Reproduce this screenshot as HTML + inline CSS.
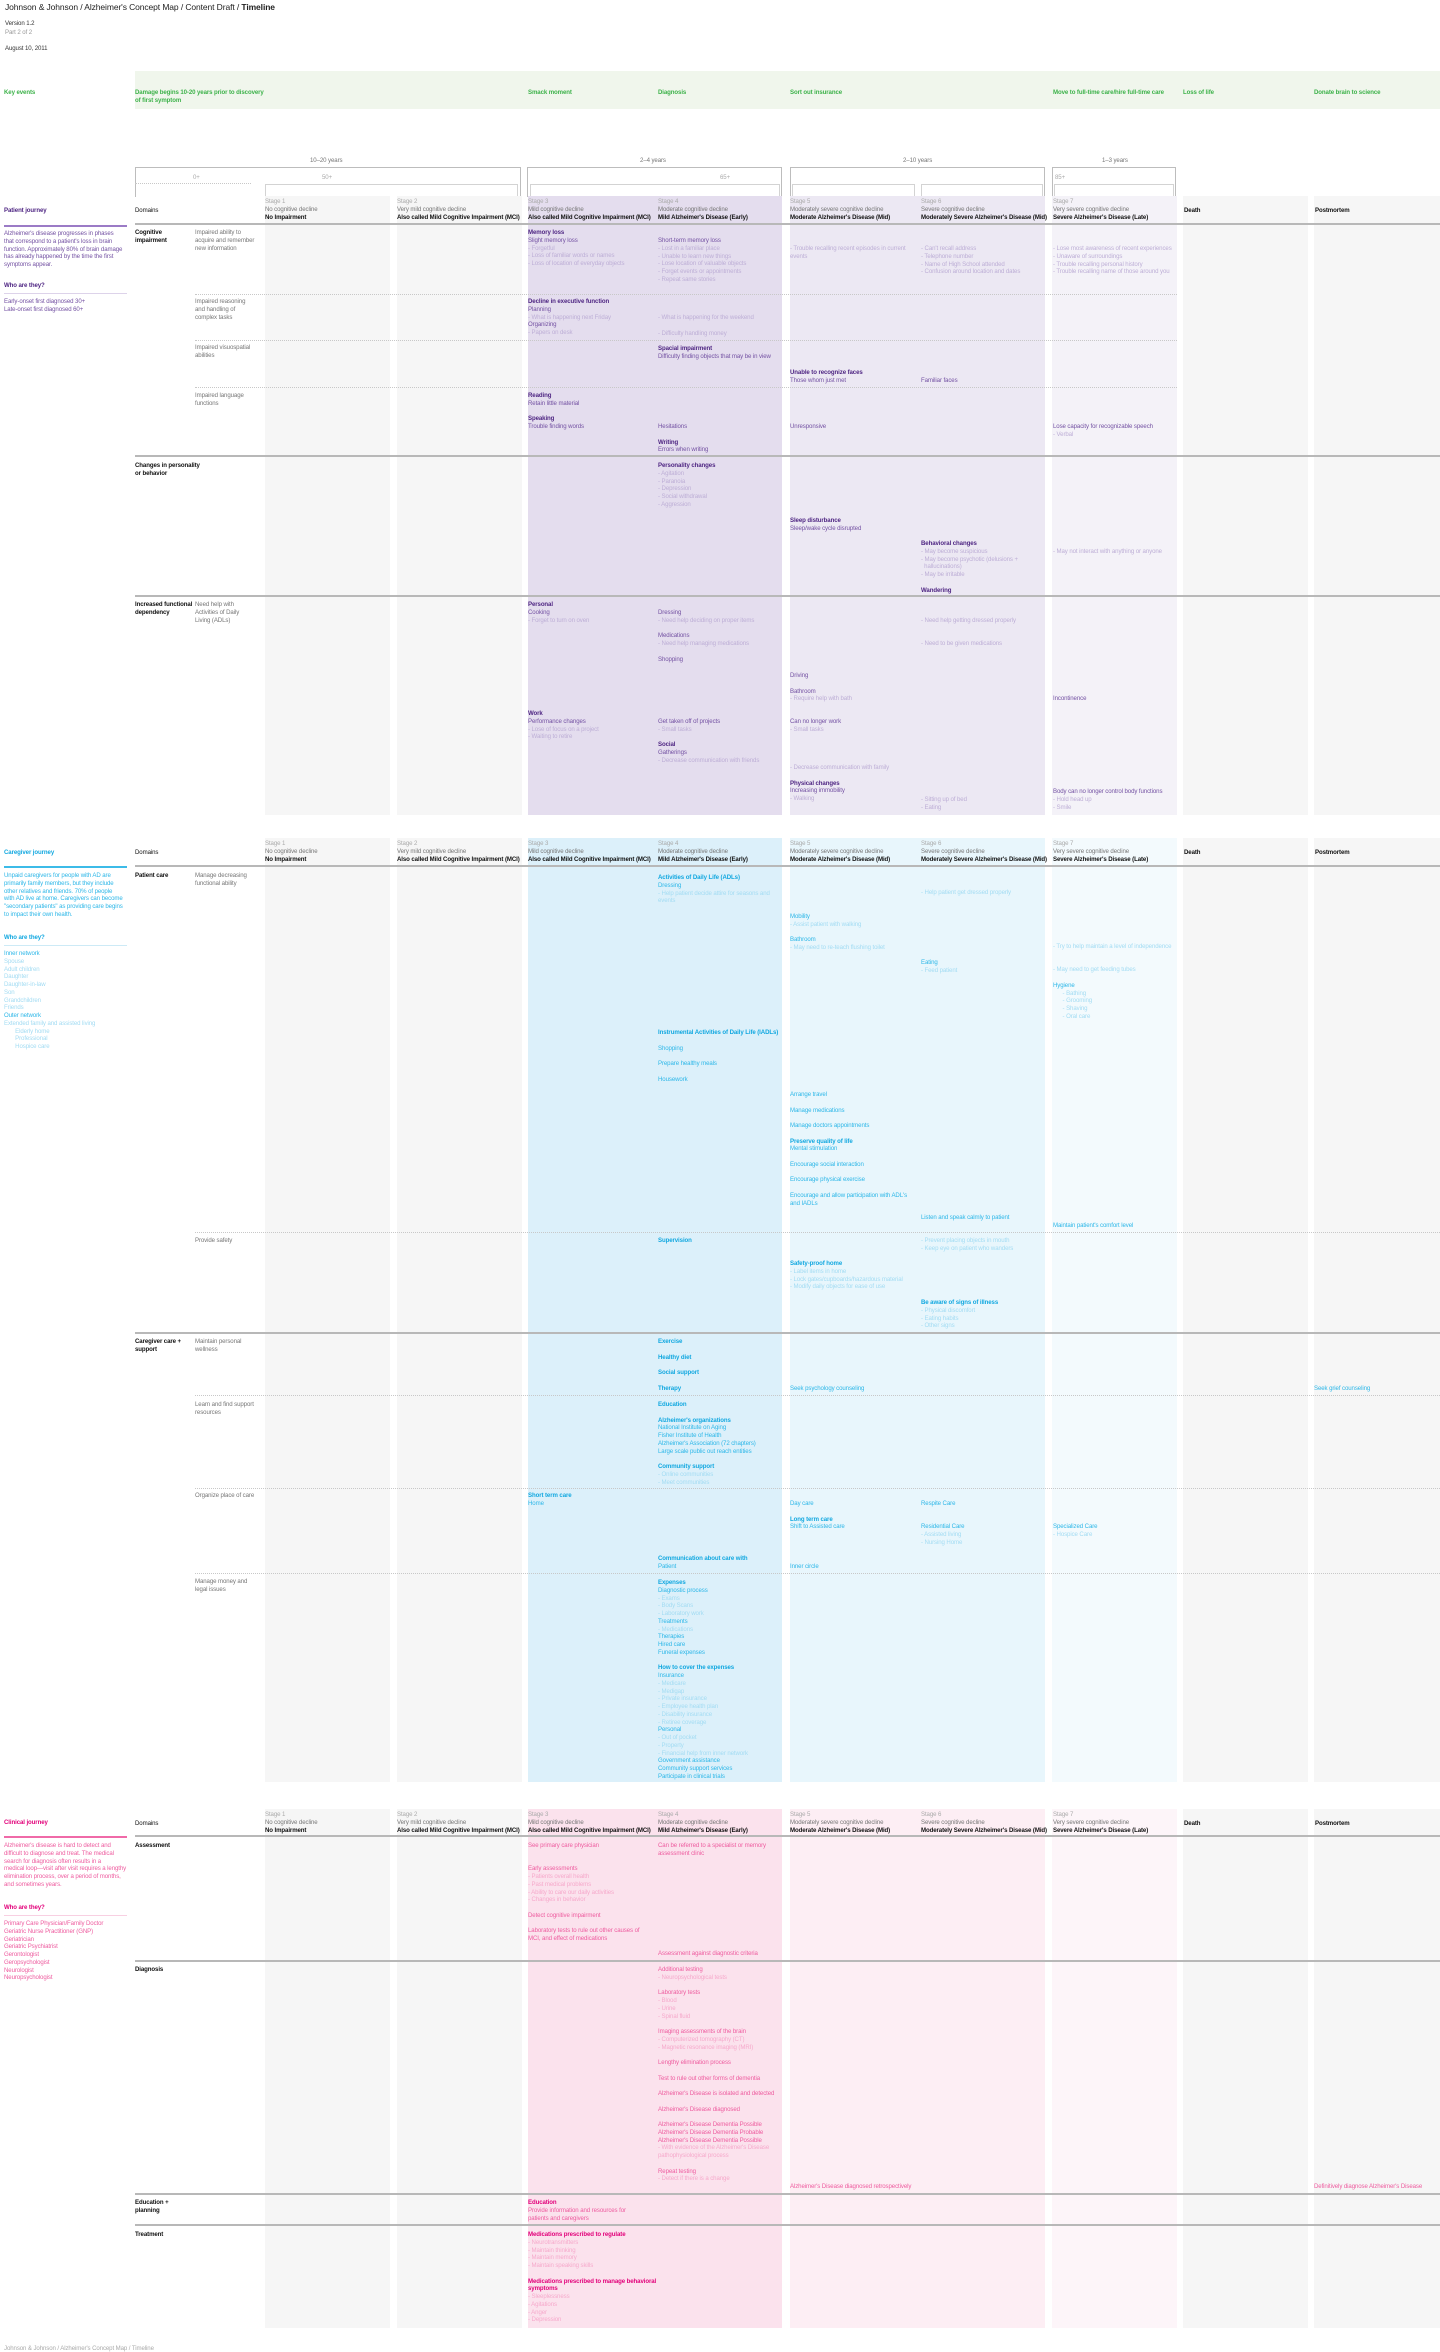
<!DOCTYPE html>
<html><head><meta charset="utf-8">
<style>
*{margin:0;padding:0;box-sizing:border-box}
html,body{width:1440px;height:2352px;background:#fff;position:relative;overflow:hidden;font-family:"Liberation Sans",sans-serif}
.a{position:absolute}
.b{position:absolute;font-size:6.1px;line-height:7.75px;white-space:nowrap;letter-spacing:-0.1px}
.b div{display:block}
.h{font-weight:bold}
.p .h{color:#4f2683}.p .t{color:#7452a3}.p .l{color:#bdaed6}
.c .h{color:#12a8e0}.c .t{color:#2db7e8}.c .l{color:#a3dcf3}
.k .h{color:#e2007a}.k .t{color:#ee5c9f}.k .l{color:#f6a9cb}
.g{color:#3db24a}
.blk,.b .blk,.c .blk,.k .blk,.p .blk{color:#111 !important}
.gr,.b .gr{color:#777 !important}
.lg,.b .lg{color:#aaa !important}
.bg{position:absolute}
.line{position:absolute;height:2px;background:#b8b8b8}
.dot{position:absolute;height:0;border-top:1px dotted #c8c8c8}
.bk{position:absolute;border:1.5px solid #bdbdbd;border-bottom:none}
.bk2{position:absolute;border:1px solid #d3d3d3;border-bottom:none}
</style></head><body>

<div class="b" style="left:5px;top:2px;font-size:8.5px;line-height:10px;color:#222">Johnson &amp; Johnson / Alzheimer's Concept Map / Content Draft / <b>Timeline</b></div>
<div class="b" style="left:5px;top:20px;color:#333">Version 1.2</div>
<div class="b" style="left:5px;top:29px;color:#999">Part 2 of 2</div>
<div class="b" style="left:5px;top:45px;color:#333">August 10, 2011</div>

<div class="bg" style="left:135px;top:71px;width:1305px;height:38px;background:#f0f6ec"></div>
<div class="b g h" style="left:4px;top:89px">Key events</div>
<div class="b g h" style="left:135px;top:89px">Damage begins 10-20 years prior to discovery<br>of first symptom</div>
<div class="b g h" style="left:528px;top:89px">Smack moment</div>
<div class="b g h" style="left:658px;top:89px">Diagnosis</div>
<div class="b g h" style="left:790px;top:89px">Sort out insurance</div>
<div class="b g h" style="left:1053px;top:89px">Move to full-time care/hire full-time care</div>
<div class="b g h" style="left:1183px;top:89px">Loss of life</div>
<div class="b g h" style="left:1314px;top:89px">Donate brain to science</div>

<div class="b gr" style="left:310px;top:157px">10–20 years</div>
<div class="bk" style="left:135px;top:167px;width:386px;height:30px"></div>
<div class="b gr" style="left:640px;top:157px">2–4 years</div>
<div class="bk" style="left:527px;top:167px;width:255px;height:30px"></div>
<div class="b gr" style="left:903px;top:157px">2–10 years</div>
<div class="bk" style="left:790px;top:167px;width:255px;height:30px"></div>
<div class="b gr" style="left:1102px;top:157px">1–3 years</div>
<div class="bk" style="left:1052px;top:167px;width:124px;height:30px"></div>
<div class="b lg" style="left:193px;top:174px">0+</div>
<div class="dot" style="left:135px;top:183px;width:116px"></div>
<div class="b lg" style="left:322px;top:174px">50+</div>
<div class="bk2" style="left:265px;top:184px;width:253px;height:13px"></div>
<div class="b lg" style="left:720px;top:174px">65+</div>
<div class="bk2" style="left:530px;top:184px;width:250px;height:13px"></div>
<div class="bk2" style="left:792px;top:184px;width:123px;height:13px"></div>
<div class="bk2" style="left:921px;top:184px;width:122px;height:13px"></div>
<div class="b lg" style="left:1055px;top:174px">85+</div>
<div class="bk2" style="left:1054px;top:184px;width:120px;height:13px"></div>

<div class="bg" style="left:265px;top:196px;width:125px;height:619px;background:#f6f6f6"></div>
<div class="bg" style="left:397px;top:196px;width:125px;height:619px;background:#f6f6f6"></div>
<div class="bg" style="left:528px;top:196px;width:254px;height:619px;background:#e4ddee"></div>
<div class="bg" style="left:790px;top:196px;width:255px;height:619px;background:#ece8f3"></div>
<div class="bg" style="left:1052px;top:196px;width:125px;height:619px;background:#f4f2f8"></div>
<div class="bg" style="left:1183px;top:196px;width:125px;height:619px;background:#f6f6f6"></div>
<div class="bg" style="left:1314px;top:196px;width:126px;height:619px;background:#f6f6f6"></div>
<div class="bg" style="left:265px;top:838px;width:125px;height:944px;background:#f6f6f6"></div>
<div class="bg" style="left:397px;top:838px;width:125px;height:944px;background:#f6f6f6"></div>
<div class="bg" style="left:528px;top:838px;width:254px;height:944px;background:#dcf0fa"></div>
<div class="bg" style="left:790px;top:838px;width:255px;height:944px;background:#e8f6fc"></div>
<div class="bg" style="left:1052px;top:838px;width:125px;height:944px;background:#f3fafd"></div>
<div class="bg" style="left:1183px;top:838px;width:125px;height:944px;background:#f6f6f6"></div>
<div class="bg" style="left:1314px;top:838px;width:126px;height:944px;background:#f6f6f6"></div>
<div class="bg" style="left:265px;top:1809px;width:125px;height:519px;background:#f6f6f6"></div>
<div class="bg" style="left:397px;top:1809px;width:125px;height:519px;background:#f6f6f6"></div>
<div class="bg" style="left:528px;top:1809px;width:254px;height:519px;background:#fbe2ed"></div>
<div class="bg" style="left:790px;top:1809px;width:255px;height:519px;background:#fdeef4"></div>
<div class="bg" style="left:1052px;top:1809px;width:125px;height:519px;background:#fdf5f9"></div>
<div class="bg" style="left:1183px;top:1809px;width:125px;height:519px;background:#f6f6f6"></div>
<div class="bg" style="left:1314px;top:1809px;width:126px;height:519px;background:#f6f6f6"></div>

<div class="a" style="left:0;top:196px">
<div class="b blk" style="left:135px;top:11px">Domains</div>
<div class="b" style="left:265px;top:2px"><div class="lg">Stage 1</div><div class="gr">No cognitive decline</div><div class="blk h">No Impairment</div></div>
<div class="b" style="left:397px;top:2px"><div class="lg">Stage 2</div><div class="gr">Very mild cognitive decline</div><div class="blk h">Also called Mild Cognitive Impairment (MCI)</div></div>
<div class="b" style="left:528px;top:2px"><div class="lg">Stage 3</div><div class="gr">Mild cognitive decline</div><div class="blk h">Also called Mild Cognitive Impairment (MCI)</div></div>
<div class="b" style="left:658px;top:2px"><div class="lg">Stage 4</div><div class="gr">Moderate cognitive decline</div><div class="blk h">Mild Alzheimer's Disease (Early)</div></div>
<div class="b" style="left:790px;top:2px"><div class="lg">Stage 5</div><div class="gr">Moderately severe cognitive decline</div><div class="blk h">Moderate Alzheimer's Disease (Mid)</div></div>
<div class="b" style="left:921px;top:2px"><div class="lg">Stage 6</div><div class="gr">Severe cognitive decline</div><div class="blk h">Moderately Severe Alzheimer's Disease (Mid)</div></div>
<div class="b" style="left:1053px;top:2px"><div class="lg">Stage 7</div><div class="gr">Very severe cognitive decline</div><div class="blk h">Severe Alzheimer's Disease (Late)</div></div>
<div class="b blk h" style="left:1184px;top:11px">Death</div>
<div class="b blk h" style="left:1315px;top:11px">Postmortem</div>
</div>
<div class="line" style="left:135px;top:223px;width:1305px"></div>
<div class="line" style="left:135px;top:865px;width:1305px"></div>
<div class="line" style="left:135px;top:1835px;width:1305px"></div>

<!-- PATIENT -->
<div class="p">
<div class="b h" style="left:4px;top:207px">Patient journey</div>
<div class="a" style="left:4px;top:225px;width:123px;height:2px;background:#9b7bc6"></div>
<div class="b t" style="left:4px;top:230px">Alzheimer's disease progresses in phases<br>that correspond to a patient's loss in brain<br>function. Approximately 80% of brain damage<br>has already happened by the time the first<br>symptoms appear.</div>
<div class="b h" style="left:4px;top:282px">Who are they?</div>
<div class="a" style="left:4px;top:293px;width:123px;height:1px;background:#ddd3ea"></div>
<div class="b t" style="left:4px;top:298px">Early-onset first diagnosed 30+<br>Late-onset first diagnosed 60+</div>

<div class="b blk h" style="left:135px;top:229px">Cognitive<br>impairment</div>
<div class="b gr" style="left:195px;top:229px">Impaired ability to<br>acquire and remember<br>new information</div>
<div class="b" style="left:528px;top:229px"><div class="h">Memory loss</div><div class="t">Slight memory loss</div><div class="l">- Forgetful</div><div class="l">- Loss of familiar words or names</div><div class="l">- Loss of location of everyday objects</div></div>
<div class="b" style="left:658px;top:237px"><div class="t">Short-term memory loss</div><div class="l">- Lost in a familiar place</div><div class="l">- Unable to learn new things</div><div class="l">- Lose location of valuable objects</div><div class="l">- Forget events or appointments</div><div class="l">- Repeat same stories</div></div>
<div class="b" style="left:790px;top:245px"><div class="l">- Trouble recalling recent episodes in current</div><div class="l">events</div></div>
<div class="b" style="left:921px;top:245px"><div class="l">- Can't recall address</div><div class="l">- Telephone number</div><div class="l">- Name of High School attended</div><div class="l">- Confusion around location and dates</div></div>
<div class="b" style="left:1053px;top:245px"><div class="l">- Lose most awareness of recent experiences</div><div class="l">- Unaware of surroundings</div><div class="l">- Trouble recalling personal history</div><div class="l">- Trouble recalling name of those around you</div></div>
<div class="dot" style="left:195px;top:294px;width:982px"></div>
<div class="b gr" style="left:195px;top:298px">Impaired reasoning<br>and handling of<br>complex tasks</div>
<div class="b" style="left:528px;top:298px"><div class="h">Decline in executive function</div><div class="t">Planning</div><div class="l">- What is happening next Friday</div><div class="t">Organizing</div><div class="l">- Papers on desk</div></div>
<div class="b" style="left:658px;top:314px"><div class="l">- What is happening for the weekend</div><div class="l">&nbsp;</div><div class="l">- Difficulty handling money</div></div>
<div class="dot" style="left:195px;top:340px;width:982px"></div>
<div class="b gr" style="left:195px;top:344px">Impaired visuospatial<br>abilities</div>
<div class="b" style="left:658px;top:345px"><div class="h">Spacial impairment</div><div class="t">Difficulty finding objects that may be in view</div></div>
<div class="b" style="left:790px;top:369px"><div class="h">Unable to recognize faces</div><div class="t">Those whom just met</div></div>
<div class="b" style="left:921px;top:377px"><div class="t">Familiar faces</div></div>
<div class="dot" style="left:195px;top:387px;width:982px"></div>
<div class="b gr" style="left:195px;top:392px">Impaired language<br>functions</div>
<div class="b" style="left:528px;top:392px"><div class="h">Reading</div><div class="t">Retain little material</div><div>&nbsp;</div><div class="h">Speaking</div><div class="t">Trouble finding words</div></div>
<div class="b" style="left:658px;top:423px"><div class="t">Hesitations</div><div>&nbsp;</div><div class="h">Writing</div><div class="t">Errors when writing</div></div>
<div class="b" style="left:790px;top:423px"><div class="t">Unresponsive</div></div>
<div class="b" style="left:1053px;top:423px"><div class="t">Lose capacity for recognizable speech</div><div class="l">- Verbal</div></div>

<div class="line" style="left:135px;top:455px;width:1305px"></div>
<div class="b blk h" style="left:135px;top:462px">Changes in personality<br>or behavior</div>
<div class="b" style="left:658px;top:462px"><div class="h">Personality changes</div><div class="l">- Agitation</div><div class="l">- Paranoia</div><div class="l">- Depression</div><div class="l">- Social withdrawal</div><div class="l">- Aggression</div></div>
<div class="b" style="left:790px;top:517px"><div class="h">Sleep disturbance</div><div class="t">Sleep/wake cycle disrupted</div></div>
<div class="b" style="left:921px;top:540px"><div class="h">Behavioral changes</div><div class="l">- May become suspicious</div><div class="l">- May become psychotic (delusions +</div><div class="l">&nbsp;&nbsp;hallucinations)</div><div class="l">- May be irritable</div><div>&nbsp;</div><div class="h">Wandering</div></div>
<div class="b" style="left:1053px;top:548px"><div class="l">- May not interact with anything or anyone</div></div>

<div class="line" style="left:135px;top:595px;width:1305px"></div>
<div class="b blk h" style="left:135px;top:601px">Increased functional<br>dependency</div>
<div class="b gr" style="left:195px;top:601px">Need help with<br>Activities of Daily<br>Living (ADLs)</div>
<div class="b" style="left:528px;top:601px"><div class="h">Personal</div><div class="t">Cooking</div><div class="l">- Forget to turn on oven</div></div>
<div class="b" style="left:658px;top:609px"><div class="t">Dressing</div><div class="l">- Need help deciding on proper items</div><div>&nbsp;</div><div class="t">Medications</div><div class="l">- Need help managing medications</div><div>&nbsp;</div><div class="t">Shopping</div></div>
<div class="b" style="left:921px;top:617px"><div class="l">- Need help getting dressed properly</div><div>&nbsp;</div><div>&nbsp;</div><div class="l">- Need to be given medications</div></div>
<div class="b" style="left:790px;top:672px"><div class="t">Driving</div><div>&nbsp;</div><div class="t">Bathroom</div><div class="l">- Require help with bath</div></div>
<div class="b" style="left:1053px;top:695px"><div class="t">Incontinence</div></div>
<div class="b" style="left:528px;top:710px"><div class="h">Work</div><div class="t">Performance changes</div><div class="l">- Lose of focus on a project</div><div class="l">- Waiting to retire</div></div>
<div class="b" style="left:658px;top:718px"><div class="t">Get taken off of projects</div><div class="l">- Small tasks</div><div>&nbsp;</div><div class="h">Social</div><div class="t">Gatherings</div><div class="l">- Decrease communication with friends</div></div>
<div class="b" style="left:790px;top:718px"><div class="t">Can no longer work</div><div class="l">- Small tasks</div></div>
<div class="b" style="left:790px;top:764px"><div class="l">- Decrease communication with family</div><div>&nbsp;</div><div class="h">Physical changes</div><div class="t">Increasing immobility</div><div class="l">- Walking</div></div>
<div class="b" style="left:921px;top:796px"><div class="l">- Sitting up of bed</div><div class="l">- Eating</div></div>
<div class="b" style="left:1053px;top:788px"><div class="t">Body can no longer control body functions</div><div class="l">- Hold head up</div><div class="l">- Smile</div></div>
</div>

<!-- CAREGIVER -->
<div class="c">
<div class="b blk" style="left:135px;top:849px">Domains</div>
<div class="b" style="left:265px;top:840px"><div class="lg">Stage 1</div><div class="gr">No cognitive decline</div><div class="blk h">No Impairment</div></div>
<div class="b" style="left:397px;top:840px"><div class="lg">Stage 2</div><div class="gr">Very mild cognitive decline</div><div class="blk h">Also called Mild Cognitive Impairment (MCI)</div></div>
<div class="b" style="left:528px;top:840px"><div class="lg">Stage 3</div><div class="gr">Mild cognitive decline</div><div class="blk h">Also called Mild Cognitive Impairment (MCI)</div></div>
<div class="b" style="left:658px;top:840px"><div class="lg">Stage 4</div><div class="gr">Moderate cognitive decline</div><div class="blk h">Mild Alzheimer's Disease (Early)</div></div>
<div class="b" style="left:790px;top:840px"><div class="lg">Stage 5</div><div class="gr">Moderately severe cognitive decline</div><div class="blk h">Moderate Alzheimer's Disease (Mid)</div></div>
<div class="b" style="left:921px;top:840px"><div class="lg">Stage 6</div><div class="gr">Severe cognitive decline</div><div class="blk h">Moderately Severe Alzheimer's Disease (Mid)</div></div>
<div class="b" style="left:1053px;top:840px"><div class="lg">Stage 7</div><div class="gr">Very severe cognitive decline</div><div class="blk h">Severe Alzheimer's Disease (Late)</div></div>
<div class="b blk h" style="left:1184px;top:849px">Death</div>
<div class="b blk h" style="left:1315px;top:849px">Postmortem</div>

<div class="b h" style="left:4px;top:849px">Caregiver journey</div>
<div class="a" style="left:4px;top:866px;width:123px;height:2px;background:#3cbbe8"></div>
<div class="b t" style="left:4px;top:872px">Unpaid caregivers for people with AD are<br>primarily family members, but they include<br>other relatives and friends. 70% of people<br>with AD live at home. Caregivers can become<br>"secondary patients" as providing care begins<br>to impact their own health.</div>
<div class="b h" style="left:4px;top:934px">Who are they?</div>
<div class="a" style="left:4px;top:945px;width:123px;height:1px;background:#cdeaf6"></div>
<div class="b" style="left:4px;top:950px"><div class="t">Inner network</div><div class="l">Spouse</div><div class="l">Adult children</div><div class="l">Daughter</div><div class="l">Daughter-in-law</div><div class="l">Son</div><div class="l">Grandchildren</div><div class="l">Friends</div><div class="t">Outer network</div><div class="l">Extended family and assisted living</div><div class="l">&nbsp;&nbsp;&nbsp;&nbsp;&nbsp;&nbsp;&nbsp;Elderly home</div><div class="l">&nbsp;&nbsp;&nbsp;&nbsp;&nbsp;&nbsp;&nbsp;Professional</div><div class="l">&nbsp;&nbsp;&nbsp;&nbsp;&nbsp;&nbsp;&nbsp;Hospice care</div></div>

<div class="b blk h" style="left:135px;top:872px">Patient care</div>
<div class="b gr" style="left:195px;top:872px">Manage decreasing<br>functional ability</div>
<div class="b" style="left:658px;top:874px"><div class="h">Activities of Daily Life (ADLs)</div><div class="t">Dressing</div><div class="l">- Help patient decide attire for seasons and</div><div class="l">events</div></div>
<div class="b" style="left:921px;top:889px"><div class="l">- Help patient get dressed properly</div></div>
<div class="b" style="left:790px;top:913px"><div class="t">Mobility</div><div class="l">- Assist patient with walking</div><div>&nbsp;</div><div class="t">Bathroom</div><div class="l">- May need to re-teach flushing toilet</div></div>
<div class="b" style="left:921px;top:959px"><div class="t">Eating</div><div class="l">- Feed patient</div></div>
<div class="b" style="left:1053px;top:943px"><div class="l">- Try to help maintain a level of independence</div><div>&nbsp;</div><div>&nbsp;</div><div class="l">- May need to get feeding tubes</div><div>&nbsp;</div><div class="t">Hygiene</div><div class="l">&nbsp;&nbsp;&nbsp;&nbsp;&nbsp;&nbsp;- Bathing</div><div class="l">&nbsp;&nbsp;&nbsp;&nbsp;&nbsp;&nbsp;- Grooming</div><div class="l">&nbsp;&nbsp;&nbsp;&nbsp;&nbsp;&nbsp;- Shaving</div><div class="l">&nbsp;&nbsp;&nbsp;&nbsp;&nbsp;&nbsp;- Oral care</div></div>
<div class="b" style="left:658px;top:1029px"><div class="h">Instrumental Activities of Daily Life (IADLs)</div><div>&nbsp;</div><div class="t">Shopping</div><div>&nbsp;</div><div class="t">Prepare healthy meals</div><div>&nbsp;</div><div class="t">Housework</div></div>
<div class="b" style="left:790px;top:1091px"><div class="t">Arrange travel</div><div>&nbsp;</div><div class="t">Manage medications</div><div>&nbsp;</div><div class="t">Manage doctors appointments</div><div>&nbsp;</div><div class="h">Preserve quality of life</div><div class="t">Mental stimulation</div><div>&nbsp;</div><div class="t">Encourage social interaction</div><div>&nbsp;</div><div class="t">Encourage physical exercise</div><div>&nbsp;</div><div class="t">Encourage and allow participation with ADL's</div><div class="t">and IADLs</div></div>
<div class="b" style="left:921px;top:1214px"><div class="t">Listen and speak calmly to patient</div></div>
<div class="b" style="left:1053px;top:1222px"><div class="t">Maintain patient's comfort level</div></div>
<div class="dot" style="left:195px;top:1232px;width:1245px"></div>
<div class="b gr" style="left:195px;top:1237px">Provide safety</div>
<div class="b" style="left:658px;top:1237px"><div class="h">Supervision</div></div>
<div class="b" style="left:921px;top:1237px"><div class="l">- Prevent placing objects in mouth</div><div class="l">- Keep eye on patient who wanders</div></div>
<div class="b" style="left:790px;top:1260px"><div class="h">Safety-proof home</div><div class="l">- Label items in home</div><div class="l">- Lock gates/cupboards/hazardous material</div><div class="l">- Modify daily objects for ease of use</div></div>
<div class="b" style="left:921px;top:1299px"><div class="h">Be aware of signs of illness</div><div class="l">- Physical discomfort</div><div class="l">- Eating habits</div><div class="l">- Other signs</div></div>

<div class="line" style="left:135px;top:1332px;width:1305px"></div>
<div class="b blk h" style="left:135px;top:1338px">Caregiver care +<br>support</div>
<div class="b gr" style="left:195px;top:1338px">Maintain personal<br>wellness</div>
<div class="b" style="left:658px;top:1338px"><div class="h">Exercise</div><div>&nbsp;</div><div class="h">Healthy diet</div><div>&nbsp;</div><div class="h">Social support</div><div>&nbsp;</div><div class="h">Therapy</div></div>
<div class="b" style="left:790px;top:1385px"><div class="t">Seek psychology counseling</div></div>
<div class="b" style="left:1314px;top:1385px"><div class="t">Seek grief counseling</div></div>
<div class="dot" style="left:195px;top:1395px;width:1245px"></div>
<div class="b gr" style="left:195px;top:1401px">Learn and find support<br>resources</div>
<div class="b" style="left:658px;top:1401px"><div class="h">Education</div><div>&nbsp;</div><div class="h">Alzheimer's organizations</div><div class="t">National Institute on Aging</div><div class="t">Fisher Institute of Health</div><div class="t">Alzheimer's Association (72 chapters)</div><div class="t">Large scale public out reach entities</div><div>&nbsp;</div><div class="h">Community support</div><div class="l">- Online communities</div><div class="l">- Meet communities</div></div>
<div class="dot" style="left:195px;top:1488px;width:1245px"></div>
<div class="b gr" style="left:195px;top:1492px">Organize place of care</div>
<div class="b" style="left:528px;top:1492px"><div class="h">Short term care</div><div class="t">Home</div></div>
<div class="b" style="left:790px;top:1500px"><div class="t">Day care</div><div>&nbsp;</div><div class="h">Long term care</div><div class="t">Shift to Assisted care</div></div>
<div class="b" style="left:921px;top:1500px"><div class="t">Respite Care</div><div>&nbsp;</div><div>&nbsp;</div><div class="t">Residential Care</div><div class="l">- Assisted living</div><div class="l">- Nursing Home</div></div>
<div class="b" style="left:1053px;top:1523px"><div class="t">Specialized Care</div><div class="l">- Hospice Care</div></div>
<div class="b" style="left:658px;top:1555px"><div class="h">Communication about care with</div><div class="t">Patient</div></div>
<div class="b" style="left:790px;top:1563px"><div class="t">Inner circle</div></div>
<div class="dot" style="left:195px;top:1573px;width:1245px"></div>
<div class="b gr" style="left:195px;top:1578px">Manage money and<br>legal issues</div>
<div class="b" style="left:658px;top:1579px"><div class="h">Expenses</div><div class="t">Diagnostic process</div><div class="l">- Exams</div><div class="l">- Body Scans</div><div class="l">- Laboratory work</div><div class="t">Treatments</div><div class="l">- Medications</div><div class="t">Therapies</div><div class="t">Hired care</div><div class="t">Funeral expenses</div><div>&nbsp;</div><div class="h">How to cover the expenses</div><div class="t">Insurance</div><div class="l">- Medicare</div><div class="l">- Medigap</div><div class="l">- Private insurance</div><div class="l">- Employee health plan</div><div class="l">- Disability insurance</div><div class="l">- Retiree coverage</div><div class="t">Personal</div><div class="l">- Out of pocket</div><div class="l">- Property</div><div class="l">- Financial help from inner network</div><div class="t">Government assistance</div><div class="t">Community support services</div><div class="t">Participate in clinical trials</div></div>
</div>

<!-- CLINICAL -->
<div class="k">
<div class="b blk" style="left:135px;top:1820px">Domains</div>
<div class="b" style="left:265px;top:1811px"><div class="lg">Stage 1</div><div class="gr">No cognitive decline</div><div class="blk h">No Impairment</div></div>
<div class="b" style="left:397px;top:1811px"><div class="lg">Stage 2</div><div class="gr">Very mild cognitive decline</div><div class="blk h">Also called Mild Cognitive Impairment (MCI)</div></div>
<div class="b" style="left:528px;top:1811px"><div class="lg">Stage 3</div><div class="gr">Mild cognitive decline</div><div class="blk h">Also called Mild Cognitive Impairment (MCI)</div></div>
<div class="b" style="left:658px;top:1811px"><div class="lg">Stage 4</div><div class="gr">Moderate cognitive decline</div><div class="blk h">Mild Alzheimer's Disease (Early)</div></div>
<div class="b" style="left:790px;top:1811px"><div class="lg">Stage 5</div><div class="gr">Moderately severe cognitive decline</div><div class="blk h">Moderate Alzheimer's Disease (Mid)</div></div>
<div class="b" style="left:921px;top:1811px"><div class="lg">Stage 6</div><div class="gr">Severe cognitive decline</div><div class="blk h">Moderately Severe Alzheimer's Disease (Mid)</div></div>
<div class="b" style="left:1053px;top:1811px"><div class="lg">Stage 7</div><div class="gr">Very severe cognitive decline</div><div class="blk h">Severe Alzheimer's Disease (Late)</div></div>
<div class="b blk h" style="left:1184px;top:1820px">Death</div>
<div class="b blk h" style="left:1315px;top:1820px">Postmortem</div>

<div class="b h" style="left:4px;top:1819px">Clinical journey</div>
<div class="a" style="left:4px;top:1836px;width:123px;height:2px;background:#f06aa8"></div>
<div class="b t" style="left:4px;top:1842px">Alzheimer's disease is hard to detect and<br>difficult to diagnose and treat. The medical<br>search for diagnosis often results in a<br>medical loop—visit after visit requires a lengthy<br>elimination process, over a period of months,<br>and sometimes years.</div>
<div class="b h" style="left:4px;top:1904px">Who are they?</div>
<div class="a" style="left:4px;top:1915px;width:123px;height:1px;background:#f8d0e2"></div>
<div class="b t" style="left:4px;top:1920px">Primary Care Physician/Family Doctor<br>Geriatric Nurse Practitioner (GNP)<br>Geriatrician<br>Geriatric Psychiatrist<br>Gerontologist<br>Geropsychologist<br>Neurologist<br>Neuropsychologist</div>

<div class="b blk h" style="left:135px;top:1842px">Assessment</div>
<div class="b" style="left:528px;top:1842px"><div class="t">See primary care physician</div><div>&nbsp;</div><div>&nbsp;</div><div class="t">Early assessments</div><div class="l">- Patients overall health</div><div class="l">- Past medical problems</div><div class="l">- Ability to care our daily activities</div><div class="l">- Changes in behavior</div><div>&nbsp;</div><div class="t">Detect cognitive impairment</div><div>&nbsp;</div><div class="t">Laboratory tests to rule out other causes of</div><div class="t">MCI, and effect of medications</div></div>
<div class="b" style="left:658px;top:1842px"><div class="t">Can be referred to a specialist or memory</div><div class="t">assessment clinic</div></div>
<div class="b" style="left:658px;top:1950px"><div class="t">Assessment against diagnostic criteria</div></div>

<div class="line" style="left:135px;top:1960px;width:1305px"></div>
<div class="b blk h" style="left:135px;top:1966px">Diagnosis</div>
<div class="b" style="left:658px;top:1966px"><div class="t">Additional testing</div><div class="l">- Neuropsychological tests</div><div>&nbsp;</div><div class="t">Laboratory tests</div><div class="l">- Blood</div><div class="l">- Urine</div><div class="l">- Spinal fluid</div><div>&nbsp;</div><div class="t">Imaging assessments of the brain</div><div class="l">- Computerized tomography (CT)</div><div class="l">- Magnetic resonance imaging (MRI)</div><div>&nbsp;</div><div class="t">Lengthy elimination process</div><div>&nbsp;</div><div class="t">Test to rule out other forms of dementia</div><div>&nbsp;</div><div class="t">Alzheimer's Disease is isolated and detected</div><div>&nbsp;</div><div class="t">Alzheimer's Disease diagnosed</div><div>&nbsp;</div><div class="t">Alzheimer's Disease Dementia Possible</div><div class="t">Alzheimer's Disease Dementia Probable</div><div class="t">Alzheimer's Disease Dementia Possible</div><div class="l">- With evidence of the Alzheimer's Disease</div><div class="l">pathophysiological process</div><div>&nbsp;</div><div class="t">Repeat testing</div><div class="l">- Detect if there is a change</div></div>
<div class="b" style="left:790px;top:2183px"><div class="t">Alzheimer's Disease diagnosed retrospectively</div></div>
<div class="b" style="left:1314px;top:2183px"><div class="t">Definitively diagnose Alzheimer's Disease</div></div>

<div class="line" style="left:135px;top:2193px;width:1305px"></div>
<div class="b blk h" style="left:135px;top:2199px">Education +<br>planning</div>
<div class="b" style="left:528px;top:2199px"><div class="h">Education</div><div class="t">Provide information and resources for</div><div class="t">patients and caregivers</div></div>

<div class="line" style="left:135px;top:2224px;width:1305px"></div>
<div class="b blk h" style="left:135px;top:2231px">Treatment</div>
<div class="b" style="left:528px;top:2231px"><div class="h">Medications prescribed to regulate</div><div class="l">- Neurotransmitters</div><div class="l">- Maintain thinking</div><div class="l">- Maintain memory</div><div class="l">- Maintain speaking skills</div><div>&nbsp;</div><div class="h">Medications prescribed to manage behavioral</div><div class="h">symptoms</div><div class="l">- Sleeplessness</div><div class="l">- Agitations</div><div class="l">- Anger</div><div class="l">- Depression</div></div>
</div>

<div class="b" style="left:4px;top:2345px;color:#aaa">Johnson &amp; Johnson / Alzheimer's Concept Map / Timeline</div>
</body></html>
